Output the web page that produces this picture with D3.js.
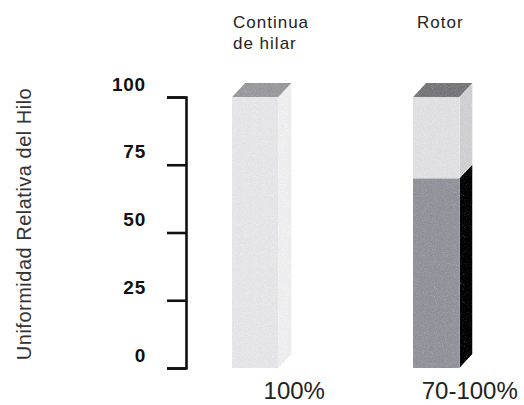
<!DOCTYPE html>
<html>
<head>
<meta charset="utf-8">
<script src="https://cdn.jsdelivr.net/npm/d3@7"></script>
<style>
  html, body { margin: 0; padding: 0; background: #fff; }
  svg { display: block; }
</style>
</head>
<body>
<script>
// Spinning systems and their relative yarn uniformity (%)
const categories = ["Continua de hilar", "Rotor"];
const headerLines = [["Continua", "de hilar"], ["Rotor"]];
const lowerValues = [100, 70];   // solid lower block of each column
const upperValues = [100, 100];  // top of each column
const rangeLabels = ["100%", "70-100%"];
const tickValues = [0, 25, 50, 75, 100];
const axisTitle = "Uniformidad Relativa del Hilo";

const W = 524, H = 405;
const svg = d3.select("body").append("svg").attr("width", W).attr("height", H);

// grainy print texture for the column faces
const defs = svg.append("defs");
const grain = defs.append("filter").attr("id", "grain")
  .attr("x", 0).attr("y", 0).attr("width", 1).attr("height", 1);
grain.append("feTurbulence").attr("type", "fractalNoise")
  .attr("baseFrequency", 0.9).attr("numOctaves", 2).attr("seed", 4).attr("result", "noise");
grain.append("feColorMatrix").attr("in", "noise").attr("type", "saturate").attr("values", 0).attr("result", "gray");
grain.append("feComposite").attr("in", "SourceGraphic").attr("in2", "gray")
  .attr("operator", "arithmetic").attr("k1", 0).attr("k2", 1).attr("k3", 0.34).attr("k4", -0.17).attr("result", "mix");
grain.append("feComposite").attr("in", "mix").attr("in2", "SourceGraphic").attr("operator", "in");

const y = d3.scaleLinear().domain([0, 100]).range([368, 97]);
const x = d3.scaleBand().domain(categories).range([177.7, 513.8])
  .paddingInner(0.743).paddingOuter(0.3);
const dx = 13, dy = 14;

// axis: bracket-shaped with ticks at both ends
const axis = d3.axisLeft(y).tickValues(tickValues).tickSize(19).tickSizeOuter(19);
const gAxis = svg.append("g").attr("transform", "translate(186,0)").call(axis);
gAxis.selectAll("path, line").attr("stroke", "#111").attr("stroke-width", 2.6);
gAxis.selectAll("text")
  .attr("x", -40).attr("y", -7).attr("dy", 0)
  .attr("text-anchor", "end")
  .attr("font-family", "Liberation Sans, Arial, sans-serif")
  .attr("font-size", 19).attr("font-weight", "bold").attr("letter-spacing", 0.8)
  .attr("fill", "#111");

svg.append("text")
  .attr("transform", "translate(31,224) rotate(-90)")
  .attr("text-anchor", "middle")
  .attr("font-family", "Liberation Sans, Arial, sans-serif")
  .attr("font-size", 20).attr("letter-spacing", 0.5).attr("fill", "#333")
  .text(axisTitle);

// column colours: [front, side, top]
const lightFace = [["#eeeef1", "#f6f6f7", "#a9a9ad"], ["#e9e9eb", "#dadadc", "#8c8c90"]];
const darkFace = ["#a3a3aa", "#2e2e38"];

function block(g, x0, w, yb, yt, front, side) {
  g.append("rect").attr("x", x0).attr("y", yt).attr("width", w).attr("height", yb - yt)
    .attr("fill", front).attr("filter", "url(#grain)");
  g.append("path")
    .attr("d", `M${x0 + w},${yb} L${x0 + w + dx},${yb - dy} L${x0 + w + dx},${yt - dy} L${x0 + w},${yt} Z`)
    .attr("fill", side).attr("filter", "url(#grain)");
}

const labelShift = [39, 33.5];

categories.forEach((c, i) => {
  const g = svg.append("g");
  const x0 = x(c), w = x.bandwidth();
  if (lowerValues[i] < upperValues[i]) {
    block(g, x0, w, y(0), y(lowerValues[i]), darkFace[0], darkFace[1]);
    block(g, x0, w, y(lowerValues[i]), y(upperValues[i]), lightFace[i][0], lightFace[i][1]);
  } else {
    block(g, x0, w, y(0), y(upperValues[i]), lightFace[i][0], lightFace[i][1]);
  }
  const yt = y(upperValues[i]);
  g.append("path")
    .attr("d", `M${x0},${yt} L${x0 + dx},${yt - dy} L${x0 + w + dx},${yt - dy} L${x0 + w},${yt} Z`)
    .attr("fill", lightFace[i][2]).attr("filter", "url(#grain)");

  // header above the column
  const t = svg.append("text")
    .attr("font-family", "Liberation Sans, Arial, sans-serif")
    .attr("font-size", 17).attr("letter-spacing", 1).attr("fill", "#222");
  headerLines[i].forEach((ln, k) => {
    t.append("tspan").attr("x", x0 + (i === 0 ? 1 : 4)).attr("y", 28 + k * 21).text(ln);
  });

  // range label under the column
  svg.append("text")
    .attr("x", x0 + w / 2 + labelShift[i]).attr("y", 399)
    .attr("text-anchor", "middle")
    .attr("font-family", "Liberation Sans, Arial, sans-serif")
    .attr("font-size", 24).attr("fill", "#222")
    .text(rangeLabels[i]);
});
</script>
</body>
</html>
